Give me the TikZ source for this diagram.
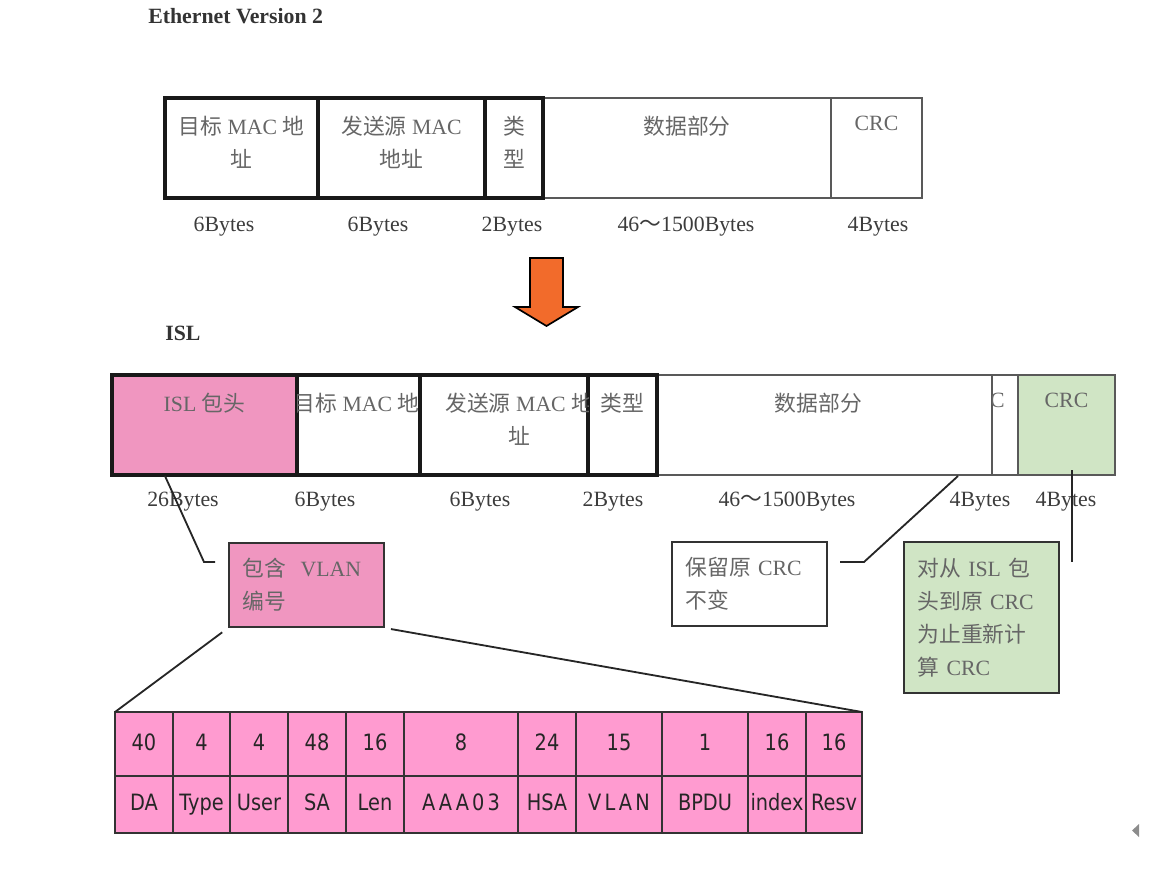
\documentclass[tikz,border=0pt]{standalone}
\usepackage{fontspec}
\usepackage{xcolor}
\setmainfont{Liberation Serif}
\newfontfamily\cjk{Noto Sans CJK SC}
\newfontfamily\tabfont[FakeStretch=0.86]{DejaVu Sans}
\newfontfamily\tabwide[FakeStretch=0.86,LetterSpace=14]{DejaVu Sans}
\usetikzlibrary{positioning}
\definecolor{headpink}{HTML}{F096C0}
\definecolor{bitpink}{HTML}{FF9BD0}
\definecolor{crcgreen}{HTML}{D0E5C5}
\definecolor{arrowfill}{HTML}{F26B2B}
\definecolor{namegray}{HTML}{666666}
\definecolor{labelgray}{HTML}{3C3C3C}
\newcommand{\zh}[1]{{\cjk #1}}
\newcommand{\pxu}{0.025cm}

\begin{document}
\begin{tikzpicture}[x=0.025cm, y=-0.025cm,
    every node/.style={font=\fontsize{15.5}{23.4}\selectfont},
    field/.style={draw, anchor=north west, inner sep=0pt, outer sep=0pt,
        minimum height=100*\pxu, minimum width=#1*\pxu},
    boldframe/.style={line width=2.2pt, draw=black!90},
    lightframe/.style={line width=1pt, draw=black!65},
    fieldname/.style={text=namegray, align=center, anchor=north, inner sep=0pt},
    bytes/.style={text=labelgray, inner sep=0pt},
    callout/.style={draw=black!80, line width=1.4pt, anchor=north west, align=left,
        text=namegray, text width=3.2cm, inner xsep=0.3375cm, inner ysep=0pt},
    leader/.style={draw=black!85, line width=1.3pt},
    bitcell/.style={draw=black!80, line width=0.9pt, fill=bitpink, anchor=north west,
        inner sep=0pt, outer sep=0pt, text=black!85, text height=12pt, text depth=3pt,
        font=\tabfont\fontsize{16}{18}\selectfont}]
    \useasboundingbox (0,0) rectangle (1176,890);

    % Ethernet Version 2
    \node (ethtitle) [anchor=west, inner sep=0pt, text=black!80, font=\bfseries\fontsize{15.5}{18}\selectfont] at (148,16) {Ethernet Version 2};
    \node (data1) [field=288, lightframe] at (543,98) {};
    \node (crc1) [field=91, lightframe, right=0pt of data1] {};
    \node (dst1) [field=153, boldframe] at (165,98) {};
    \node (src1) [field=167, boldframe, right=0pt of dst1] {};
    \node (type1) [field=58, boldframe, right=0pt of src1] {};
    \node (dst1t) [fieldname, below=0.45cm of dst1.north] {\zh{目标} MAC \zh{地}\\\zh{址}};
    \node (src1t) [fieldname, below=0.45cm of src1.north] {\zh{发送源} MAC\\\zh{地址}};
    \node (type1t) [fieldname, below=0.45cm of type1.north] {\zh{类}\\\zh{型}};
    \node (data1t) [fieldname, below=0.45cm of data1.north] {\zh{数据部分}};
    \node (crc1t) [fieldname, below=0.45cm of crc1.north] {CRC};
    \node (dst1b) [bytes] at (224,227) {6Bytes};
    \node (src1b) [bytes] at (378,227) {6Bytes};
    \node (type1b) [bytes] at (512,227) {2Bytes};
    \node (data1b) [bytes] at (686,227) {46\zh{～}1500Bytes};
    \node (crc1b) [bytes] at (878,227) {4Bytes};

    % down arrow
    \draw [line width=1.2pt, fill=arrowfill] (530,258) -- (563,258) -- (563,307) -- (578,307)
        -- (546.5,326) -- (515,307) -- (530,307) -- cycle;

    % ISL
    \node (isltitle) [anchor=west, inner sep=0pt, text=black!80, font=\bfseries\fontsize{15.5}{18}\selectfont] at (165,333) {ISL};
    \node (data2) [field=335, lightframe] at (657,375) {};
    \node (c2) [field=26, lightframe, right=0pt of data2] {};
    \node (crc2) [field=97, lightframe, fill=crcgreen, right=0pt of c2] {};
    \node (isl2) [field=185, boldframe, fill=headpink] at (112,375) {};
    \node (dst2) [field=123, boldframe, right=0pt of isl2] {};
    \node (src2) [field=168, boldframe, right=0pt of dst2] {};
    \node (type2) [field=69, boldframe, right=0pt of src2] {};
    \node (isl2t) [fieldname, below=0.45cm of isl2.north] {ISL \zh{包头}};
    \begin{scope}
        \clip (dst2.north west) rectangle (dst2.south east);
        \node (dst2t) [fieldname, below=0.45cm of dst2.north, xshift=-0.05cm] {\zh{目标} MAC \zh{地}};
    \end{scope}
    \begin{scope}
        \clip (src2.north west) rectangle (src2.south east);
        \node (src2t) [fieldname, anchor=north west] at (445,393) {\zh{发送源} MAC \zh{地}\\\zh{址}};
    \end{scope}
    \node (type2t) [fieldname, below=0.45cm of type2.north] {\zh{类型}};
    \node (data2t) [fieldname, below=0.45cm of data2.north, xshift=-0.15cm] {\zh{数据部分}};
    \begin{scope}
        \clip (c2.north west) rectangle (c2.south east);
        \node (c2t) [fieldname, anchor=north east] at (1005,393) {CRC};
    \end{scope}
    \node (crc2t) [fieldname, below=0.45cm of crc2.north] {CRC};
    \node (isl2b) [bytes] at (183,502) {26Bytes};
    \node (dst2b) [bytes] at (325,502) {6Bytes};
    \node (src2b) [bytes] at (480,502) {6Bytes};
    \node (type2b) [bytes] at (613,502) {2Bytes};
    \node (data2b) [bytes] at (787,502) {46\zh{～}1500Bytes};
    \node (c2b) [bytes] at (980,502) {4Bytes};
    \node (crc2b) [bytes] at (1066,502) {4Bytes};

    % callouts
    \node (vlanbox) [callout, fill=headpink, minimum height=2.1cm] at (228,542) {\zh{包含}\ \ VLAN\\\zh{编号}};
    \node (keepbox) [callout, minimum height=2.1cm] at (671,541) {\zh{保留原}\ CRC\\\zh{不变}};
    \node (recalcbox) [callout, fill=crcgreen, minimum height=3.775cm] at (903,541)
        {\zh{对从}\ ISL\ \zh{包}\\\zh{头到原}\ CRC\\\zh{为止重新计}\\\zh{算} CRC};
    \coordinate (hdrtap) at (165,476);
    \coordinate (vlanin) at (215,562);
    \draw [leader] (hdrtap) -- (204,562) -- (vlanin);
    \coordinate (datatap) at (958,476);
    \coordinate (keepin) at (840,562);
    \draw [leader] (datatap) -- (864,562) -- (keepin);
    \coordinate (crctap) at (1072,470);
    \coordinate (recalcin) at (1072,562);
    \draw [leader] (crctap) -- (recalcin);

    % ISL header fields
    \foreach \x/\w/\bits/\fld [count=\i] in {115/58/40/DA, 173/57/4/Type, 230/58/4/User,
        288/58/48/SA, 346/58/16/Len, 404/114/8/{\tabwide AAA03}, 518/58/24/HSA,
        576/86/15/{\tabwide VLAN}, 662/86/1/BPDU, 748/58/16/index, 806/56/16/Resv} {
        \node (bits\i) [bitcell, minimum width=\w*\pxu, minimum height=64*\pxu] at (\x,712) {\bits};
        \node (fld\i) [bitcell, minimum width=\w*\pxu, minimum height=57*\pxu, below=0pt of bits\i] {\fld};
    }
    \draw [leader, shorten <=0.18cm] (vlanbox.south west) -- (bits1.north west);
    \draw [leader, shorten <=0.15cm] (vlanbox.south east) -- (bits11.north east);

    \fill [black!45] (1139,824) -- (1139,837) -- (1132,830.5) -- cycle;
\end{tikzpicture}
\end{document}
